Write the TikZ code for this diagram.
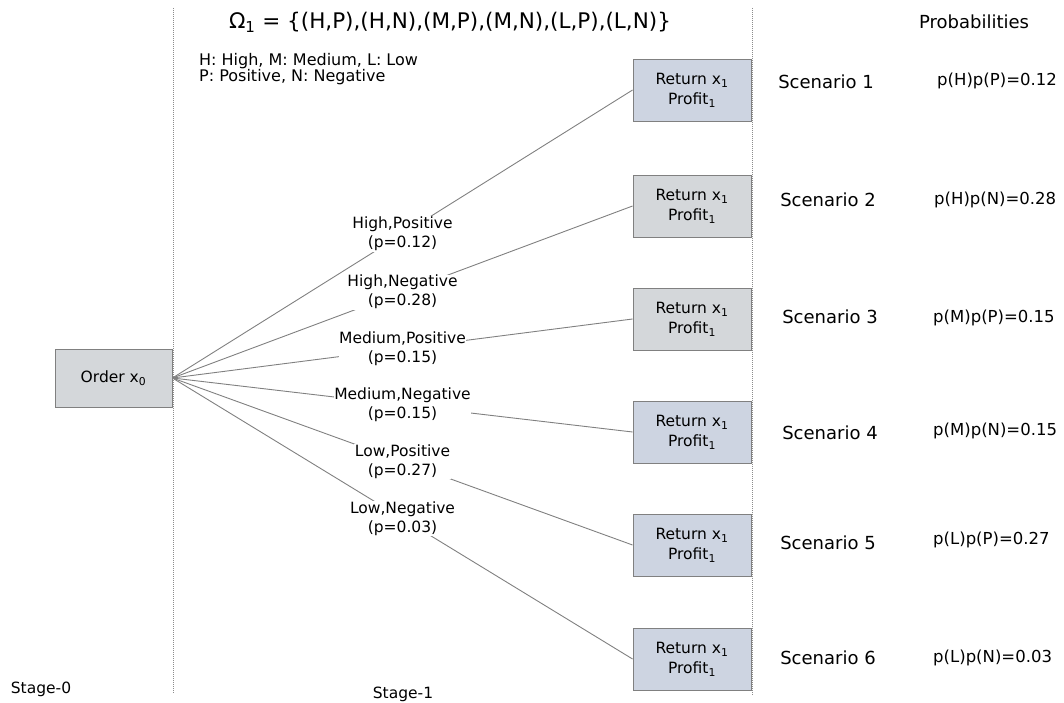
\documentclass[tikz,border=0pt]{standalone}
\usepackage{fontspec}
\setmainfont{DejaVu Sans}
\definecolor{boxblue}{RGB}{205,212,225}
\definecolor{boxgray}{RGB}{212,215,218}
\definecolor{boxline}{RGB}{128,128,128}
\definecolor{linegray}{RGB}{128,128,128}
\definecolor{divgray}{RGB}{140,140,140}
\newcommand{\sbs}[1]{\textsubscript{#1}}
\begin{document}
\begin{tikzpicture}[x=1pt,y=-1pt,
  box/.style={draw=boxline, line width=0.9pt, minimum width=118pt, minimum height=62pt, inner sep=0pt, align=center, font=\fontsize{15.5}{20}\selectfont},
  bluebox/.style={box, fill=boxblue},
  graybox/.style={box, fill=boxgray},
  conn/.style={draw=linegray, line width=0.9pt},
  lbl/.style={fill=white, inner sep=0.5pt, align=center, font=\fontsize{15.5}{19}\selectfont},
  scen/.style={font=\fontsize{18}{20}\selectfont, inner sep=0pt},
  prob/.style={font=\fontsize{16.5}{20}\selectfont, inner sep=0pt, anchor=west},
  divider/.style={draw=divgray, line width=0.8pt, dash pattern=on 1pt off 1pt},
  stage/.style={font=\fontsize{15.5}{18}\selectfont, inner sep=0pt},
  legend/.style={font=\fontsize{16}{17}\selectfont, inner sep=0pt, anchor=base west},
]
\useasboundingbox (0,0) rectangle (1064,703);

% stage dividers
\coordinate (d1top) at (173,8);
\coordinate (d1bot) at (173,693);
\coordinate (d2top) at (752,8);
\coordinate (d2bot) at (752,695);
\draw[divider] (d1top) -- (d1bot);
\draw[divider] (d2top) -- (d2bot);

% header texts
\node[font=\fontsize{21.5}{24}\selectfont, inner sep=0pt] (omega) at (450,22) {Ω\sbs{1} = \{(H,P),(H,N),(M,P),(M,N),(L,P),(L,N)\}};
\node[legend] (leg1) at (199,66) {H: High, M: Medium, L: Low};
\node[legend] (leg2) at (199,82) {P: Positive, N: Negative};
\node[font=\fontsize{18}{20}\selectfont, inner sep=0pt] (probhead) at (974,22) {Probabilities};

% nodes
\node[graybox, minimum width=117pt, minimum height=58pt] (order) at (113.5,378) {Order x\sbs{0}};
\node[bluebox] (r1) at (692,90)  {Return x\sbs{1}\\Profit\sbs{1}};
\node[graybox] (r2) at (692,206) {Return x\sbs{1}\\Profit\sbs{1}};
\node[graybox] (r3) at (692,319) {Return x\sbs{1}\\Profit\sbs{1}};
\node[bluebox] (r4) at (692,432) {Return x\sbs{1}\\Profit\sbs{1}};
\node[bluebox] (r5) at (692,545) {Return x\sbs{1}\\Profit\sbs{1}};
\node[bluebox] (r6) at (692,659) {Return x\sbs{1}\\Profit\sbs{1}};

% connectors
\draw[conn] (order.east) -- node[lbl] (l1) {High,Positive\\(p=0.12)} (r1.west);
\draw[conn] (order.east) -- node[lbl] (l2) {High,Negative\\(p=0.28)} (r2.west);
\draw[conn] (order.east) -- node[lbl] (l3) {Medium,Positive\\(p=0.15)} (r3.west);
\draw[conn] (order.east) -- node[lbl] (l4) {Medium,Negative\\(p=0.15)} (r4.west);
\draw[conn] (order.east) -- node[lbl] (l5) {Low,Positive\\(p=0.27)} (r5.west);
\draw[conn] (order.east) -- node[lbl] (l6) {Low,Negative\\(p=0.03)} (r6.west);

% scenarios
\node[scen] (s1) at (826,82)  {Scenario 1};
\node[scen] (s2) at (828,200) {Scenario 2};
\node[scen] (s3) at (830,317) {Scenario 3};
\node[scen] (s4) at (830,433) {Scenario 4};
\node[scen] (s5) at (828,543) {Scenario 5};
\node[scen] (s6) at (828,658) {Scenario 6};

% probabilities
\node[prob] (p1) at (937,81)  {p(H)p(P)=0.12};
\node[prob] (p2) at (934,200) {p(H)p(N)=0.28};
\node[prob] (p3) at (933,318) {p(M)p(P)=0.15};
\node[prob] (p4) at (933,431) {p(M)p(N)=0.15};
\node[prob] (p5) at (933,540) {p(L)p(P)=0.27};
\node[prob] (p6) at (933,658) {p(L)p(N)=0.03};

% stages
\node[stage] (st0) at (41,689)  {Stage-0};
\node[stage] (st1) at (403,694) {Stage-1};
\end{tikzpicture}
\end{document}
